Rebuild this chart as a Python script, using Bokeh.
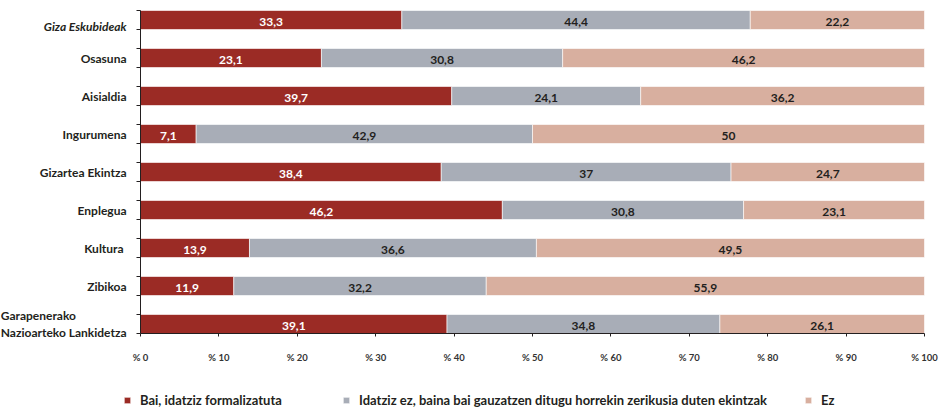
from bokeh.plotting import figure
from bokeh.models import (ColumnDataSource, Range1d, FixedTicker, LabelSet,
                          Legend, LegendItem)
from bokeh.core.properties import value
from bokeh.embed import file_html
from bokeh.resources import INLINE

# ---- data ----
categories = ["Giza Eskubideak", "Osasuna", "Aisialdia", "Ingurumena",
              "Gizartea Ekintza", "Enplegua", "Kultura ", "Zibikoa",
              "Garapenerako \nNazioarteko Lankidetza"]
bai = [33.3, 23.1, 39.7, 7.1, 38.4, 46.2, 13.9, 11.9, 39.1]
idatziz_ez = [44.4, 30.8, 24.1, 42.9, 37, 30.8, 36.6, 32.2, 34.8]
ez = [22.2, 46.2, 36.2, 50, 24.7, 23.1, 49.5, 55.9, 26.1]
series_names = ["Bai, idatziz formalizatuta",
                "Idatziz ez, baina bai gauzatzen ditugu horrekin zerikusia duten ekintzak",
                "Ez"]
x_ticks = [0, 10, 20, 30, 40, 50, 60, 70, 80, 90, 100]
x_tick_labels = ["% 0", "% 10", "% 20", "% 30", "% 40", "% 50",
                 "% 60", "% 70", "% 80", "% 90", "% 100"]

colors = ["#9B2B25", "#A8ADB7", "#D8AF9F"]
FONT = "Lato"
W, H = 941, 409
# plot-area placement (pixels) inside the page
PL, PR, PT, PB = 140, 924, 10, 333

n = len(categories)
ys = [n - 1 - i for i in range(n)]
tot = [a + b + c for a, b, c in zip(bai, idatziz_ez, ez)]
s1 = [a / t * 100 for a, t in zip(bai, tot)]
s2 = [b / t * 100 for b, t in zip(idatziz_ez, tot)]
l1 = [0.0] * n
r1 = s1
l2 = r1
r2 = [a + b for a, b in zip(s1, s2)]
l3 = r2
r3 = [100.0] * n


def fmt(v):
    return f"{v:g}".replace(".", ",")


src = ColumnDataSource(dict(
    y=ys, cat=categories,
    l1=l1, r1=r1, l2=l2, r2=r2, l3=l3, r3=r3,
    m1=[(a + b) / 2 for a, b in zip(l1, r1)],
    m2=[(a + b) / 2 for a, b in zip(l2, r2)],
    m3=[(a + b) / 2 for a, b in zip(l3, r3)],
    t1=[fmt(v) for v in bai], t2=[fmt(v) for v in idatziz_ez],
    t3=[fmt(v) for v in ez],
))

# ranges extended so the whole figure is the frame (no clipping of labels)
y_lo, y_hi = -0.25, n - 0.75
ux = 100.0 / (PR - PL)
uy = (y_hi - y_lo) / (PB - PT)
x_range = Range1d(0 - PL * ux, 100 + (W - PR) * ux)
y_range = Range1d(y_lo - (H - PB) * uy, y_hi + PT * uy)

p = figure(width=W, height=H, output_backend="svg", toolbar_location=None,
           x_range=x_range, y_range=y_range, min_border=0)
p.outline_line_color = None
p.grid.visible = False
p.background_fill_color = "white"

bars = []
for (l, r), c in zip([("l1", "r1"), ("l2", "r2"), ("l3", "r3")], colors):
    bars.append(p.hbar(y="y", left=l, right=r, height=0.5, source=src,
                       fill_color=c, line_color="white", line_alpha=0.6,
                       line_width=1))

for m, t, col in [("m1", "t1", "white"), ("m2", "t2", "#231F20"),
                  ("m3", "t3", "#231F20")]:
    p.text(x=m, y="y", text=t, source=src, text_align="center",
           text_baseline="middle", y_offset=2, text_color=col,
           text_font=value(FONT), text_font_style="bold",
           text_font_size="12px")

# category labels
src_it = ColumnDataSource(dict(y=ys[:1], x=[0], cat=categories[:1]))
src_n = ColumnDataSource(dict(y=ys[1:], x=[0] * (n - 1), cat=categories[1:]))
p.add_layout(LabelSet(x="x", y="y", text="cat", source=src_it, x_offset=-14,
                      y_offset=-6, text_align="right", text_baseline="middle",
                      text_font=value(FONT), text_font_style="bold italic",
                      text_font_size="12px", text_color="#231F20"))
p.add_layout(LabelSet(x="x", y="y", text="cat", source=src_n, x_offset=-14,
                      y_offset=0, text_align="right", text_baseline="middle",
                      text_font=value(FONT), text_font_style="bold",
                      text_font_size="12px", text_color="#231F20",
                      text_line_height=1.15))

# y axis at x = 0: ticks at bar edges only
edges = sorted([y - 0.25 for y in ys] + [y + 0.25 for y in ys])
p.yaxis.fixed_location = 0
p.yaxis.bounds = (y_lo, y_hi)
p.yaxis.ticker = FixedTicker(ticks=ys, minor_ticks=edges)
p.yaxis.major_label_overrides = {y: "" for y in ys}
p.yaxis.major_tick_out = 0
p.yaxis.major_tick_in = 0
p.yaxis.minor_tick_out = 4
p.yaxis.minor_tick_in = 0
p.yaxis.axis_line_color = "#231F20"
p.yaxis.minor_tick_line_color = "#231F20"

# x axis along the bottom of the bars
p.xaxis.fixed_location = y_lo
p.xaxis.bounds = (0, 100)
p.xaxis.ticker = FixedTicker(ticks=x_ticks)
p.xaxis.major_label_overrides = {t: s for t, s in zip(x_ticks, x_tick_labels)}
p.xaxis.major_tick_out = 3
p.xaxis.major_tick_in = 0
p.xaxis.minor_tick_line_color = None
p.xaxis.major_label_standoff = 15
p.xaxis.major_label_text_font = FONT
p.xaxis.major_label_text_font_style = "bold"
p.xaxis.major_label_text_font_size = "9.5px"
p.xaxis.major_label_text_color = "#333333"
p.xaxis.axis_line_color = "#231F20"
p.xaxis.major_tick_line_color = "#231F20"

# legends (three separate, positioned like the reference)
leg_x = [123, 342, 804]
for name, r, lx in zip(series_names, bars, leg_x):
    lg = Legend(items=[LegendItem(label=name, renderers=[r])],
                location=(lx, 1), padding=0, margin=0,
                border_line_color=None, background_fill_alpha=0,
                glyph_width=8, glyph_height=8, label_standoff=9,
                label_height=14, label_text_font=FONT,
                label_text_font_style="bold", label_text_font_size="13px",
                label_text_color="#231F20")
    p.add_layout(lg, "center")

open("out.html", "w").write(file_html(p, INLINE))
